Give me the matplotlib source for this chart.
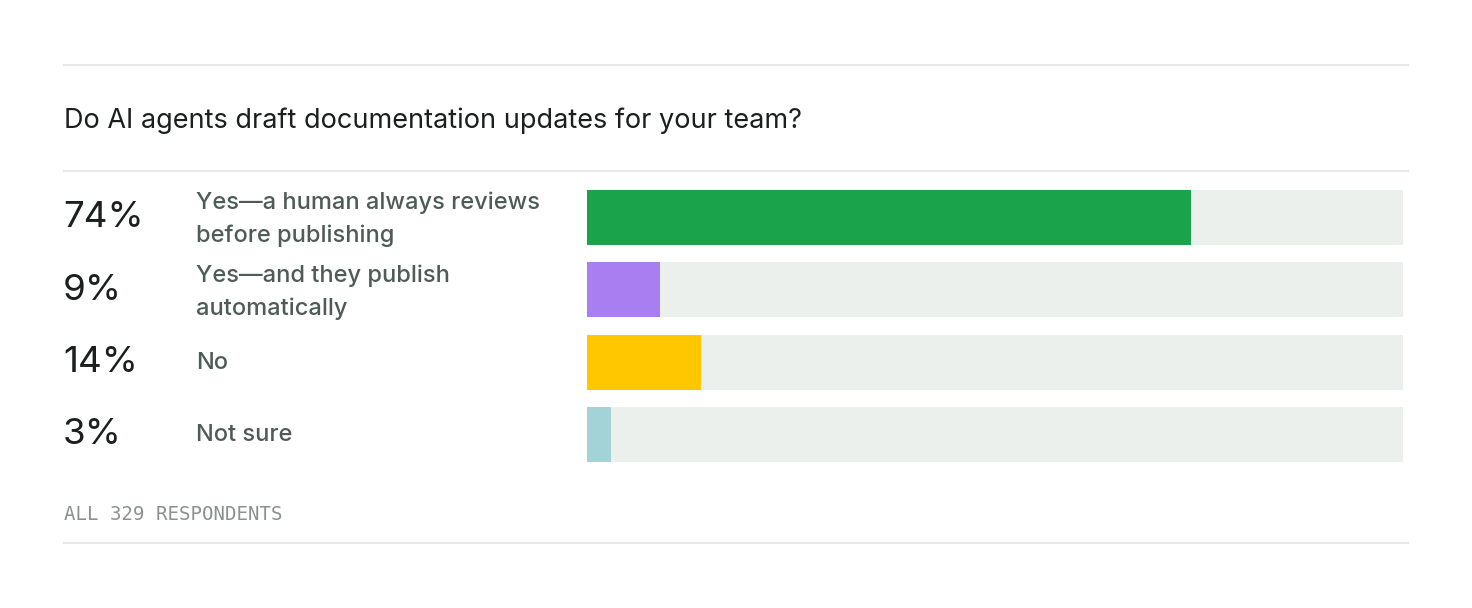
import matplotlib
matplotlib.use("Agg")
import matplotlib.pyplot as plt
from matplotlib.lines import Line2D

# ---- data ----
title = "Do AI agents draft documentation updates for your team?"
categories = ["Yes\u2014a human always reviews\nbefore publishing",
              "Yes\u2014and they publish\nautomatically",
              "No",
              "Not sure"]
values = [74, 9, 14, 3]
pct_labels = ["74%", "9%", "14%", "3%"]
colors = ["#1aa34a", "#a87ef0", "#ffc700", "#a3d3d6"]
footer = "ALL 329 RESPONDENTS"

W, H = 1472, 608
fig = plt.figure(figsize=(W / 100, H / 100), dpi=100)
fig.patch.set_facecolor("white")

def fx(px):
    return px / W

def fy(py):
    return 1 - py / H

# rules
for yy in (65, 171, 543):
    fig.add_artist(Line2D([fx(64), fx(1408)], [fy(yy), fy(yy)], color="#e8e8e8", lw=1.5,
                          transform=fig.transFigure))

fig.text(fx(64), fy(121), title, fontsize=19.5, family=["Inter", "DejaVu Sans"],
         color="#1b1f1d", va="center", ha="left")

# bars axes
pitch = (407 - 190) / 3
top = 217.5 - pitch / 2
bottom = 434.5 + pitch / 2
ax = fig.add_axes([fx(587), fy(bottom), fx(1403) - fx(587), (bottom - top) / H])
ypos = list(range(len(values)))
bh = 55 / pitch
ax.barh(ypos, [100] * len(values), height=bh, color="#ebf0ec", linewidth=0)
ax.barh(ypos, values, height=bh, color=colors, linewidth=0)
ax.set_xlim(0, 100)
ax.set_ylim(len(values) - 0.5, -0.5)
ax.axis("off")

centers = [217.5, 290.5, 362.5, 434.5]
for c, cat, pl in zip(centers, categories, pct_labels):
    fig.text(fx(63), fy(c), pl, fontsize=26.5, family=["Inter", "DejaVu Sans"],
             fontweight="normal", color="#1b1f1d", va="center", ha="left")
    dy = 2 if "\n" in cat else 0.5
    fig.text(fx(196), fy(c + dy), cat, fontsize=17, family=["Inter", "DejaVu Sans"],
             fontweight="medium", color="#4e5b56", va="center", ha="left", linespacing=1.6)

fig.text(fx(64), fy(514), footer, fontsize=13.7, family=["DejaVu Sans Mono"],
         color="#8a918e", va="center", ha="left")

fig.savefig("out.png", dpi=100, facecolor="white")
